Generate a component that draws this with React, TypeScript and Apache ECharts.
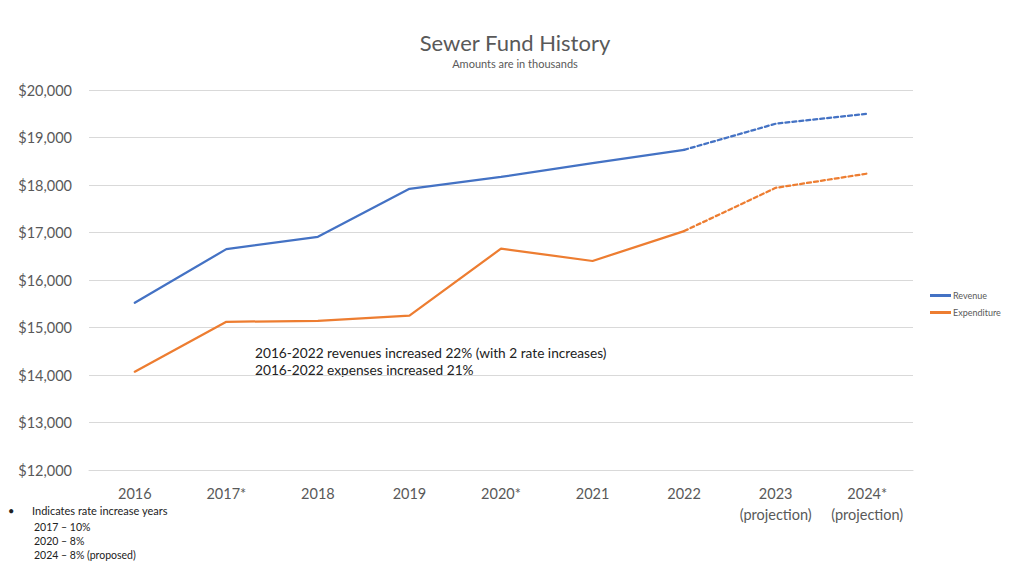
import React, { useEffect, useRef } from "react";
import * as echarts from "echarts";

const categories = ["2016", "2017*", "2018", "2019", "2020*", "2021", "2022", "2023\n(projection)", "2024*\n(projection)"];
const revenueActual = [15520, 16650, 16910, 17920, 18170, 18460, 18740, null, null];
const revenueProjected = [null, null, null, null, null, null, 18740, 19290, 19500];
const expenditureActual = [14070, 15120, 15140, 15250, 16660, 16400, 17030, null, null];
const expenditureProjected = [null, null, null, null, null, null, 17030, 17940, 18240];
const annotationLines = ["2016-2022 revenues increased 22% (with 2 rate increases)", "2016-2022 expenses increased 21%"];
const noteLines = ["Indicates rate increase years", "2017 – 10%", "2020 – 8%", "2024 – 8% (proposed)"];

const FONT = "Lato, 'Open Sans', sans-serif";
const BLUE = "#4472C4";
const ORANGE = "#ED7D31";

export default function App() {
  const ref = useRef<HTMLDivElement>(null);
  useEffect(() => {
    if (!ref.current) return;
    const chart = echarts.init(ref.current, undefined, { renderer: "svg" });
    const lineSeries = (name: string, data: any[], color: string, dashed: boolean) => ({
      name,
      type: "line",
      data,
      symbol: "none",
      connectNulls: false,
      lineStyle: { color, width: 2.25, type: dashed ? [4, 3] : "solid", cap: "round" },
      itemStyle: { color },
      z: 3,
    });
    chart.setOption({
      animation: false,
      backgroundColor: "#ffffff",
      textStyle: { fontFamily: FONT },
      title: {
        text: "Sewer Fund History",
        subtext: "Amounts are in thousands",
        left: 510,
        textAlign: "center",
        top: 26,
        itemGap: 5,
        textStyle: { fontFamily: FONT, fontSize: 22, fontWeight: "normal", color: "#595959" },
        subtextStyle: { fontFamily: FONT, fontSize: 11, color: "#595959" },
      },
      legend: {
        data: ["Revenue", "Expenditure"],
        orient: "vertical",
        left: 925,
        top: 286,
        itemWidth: 21,
        itemHeight: 3,
        itemGap: 8,
        icon: "rect",
        textStyle: { fontFamily: FONT, fontSize: 9, color: "#595959", padding: [0, 0, 0, -3] },
      },
      grid: { left: 89, right: 111, top: 90, bottom: 106, containLabel: false },
      xAxis: {
        type: "category",
        data: categories,
        boundaryGap: true,
        axisLine: { show: true, lineStyle: { color: "#d9d9d9" } },
        axisTick: { show: false },
        axisLabel: { fontFamily: FONT, fontSize: 14.5, color: "#595959", margin: 13, lineHeight: 21, interval: 0 },
      },
      yAxis: {
        type: "value",
        min: 12000,
        max: 20000,
        interval: 1000,
        axisLine: { show: false },
        axisTick: { show: false },
        splitLine: { lineStyle: { color: "#d9d9d9", width: 1 } },
        axisLabel: {
          fontFamily: FONT,
          fontSize: 14.5,
          color: "#595959",
          margin: 17,
          formatter: (v: number) => "$" + v.toLocaleString("en-US"),
        },
      },
      series: [
        lineSeries("Revenue", revenueActual, BLUE, false),
        lineSeries("Revenue projection", revenueProjected, BLUE, true),
        lineSeries("Expenditure", expenditureActual, ORANGE, false),
        lineSeries("Expenditure projection", expenditureProjected, ORANGE, true),
      ],
      graphic: [
        {
          type: "text",
          left: 255,
          top: 344,
          style: {
            text: annotationLines.join("\n"),
            fontFamily: FONT,
            fontSize: 13.7,
            lineHeight: 17,
            fill: "#222222",
          },
        },
        {
          type: "text",
          left: 8,
          top: 505,
          style: { text: "•", fontFamily: FONT, fontSize: 11, fill: "#222222" },
        },
        {
          type: "text",
          left: 32,
          top: 505,
          style: { text: noteLines[0], fontFamily: FONT, fontSize: 11, fill: "#222222" },
        },
        {
          type: "text",
          left: 34,
          top: 520,
          style: { text: noteLines.slice(1).join("\n"), fontFamily: FONT, fontSize: 10.5, lineHeight: 14, fill: "#222222" },
        },
      ],
    });
    return () => chart.dispose();
  }, []);
  return <div ref={ref} style={{ width: 1024, height: 576, position: "absolute", left: 0, top: 0 }} />;
}
